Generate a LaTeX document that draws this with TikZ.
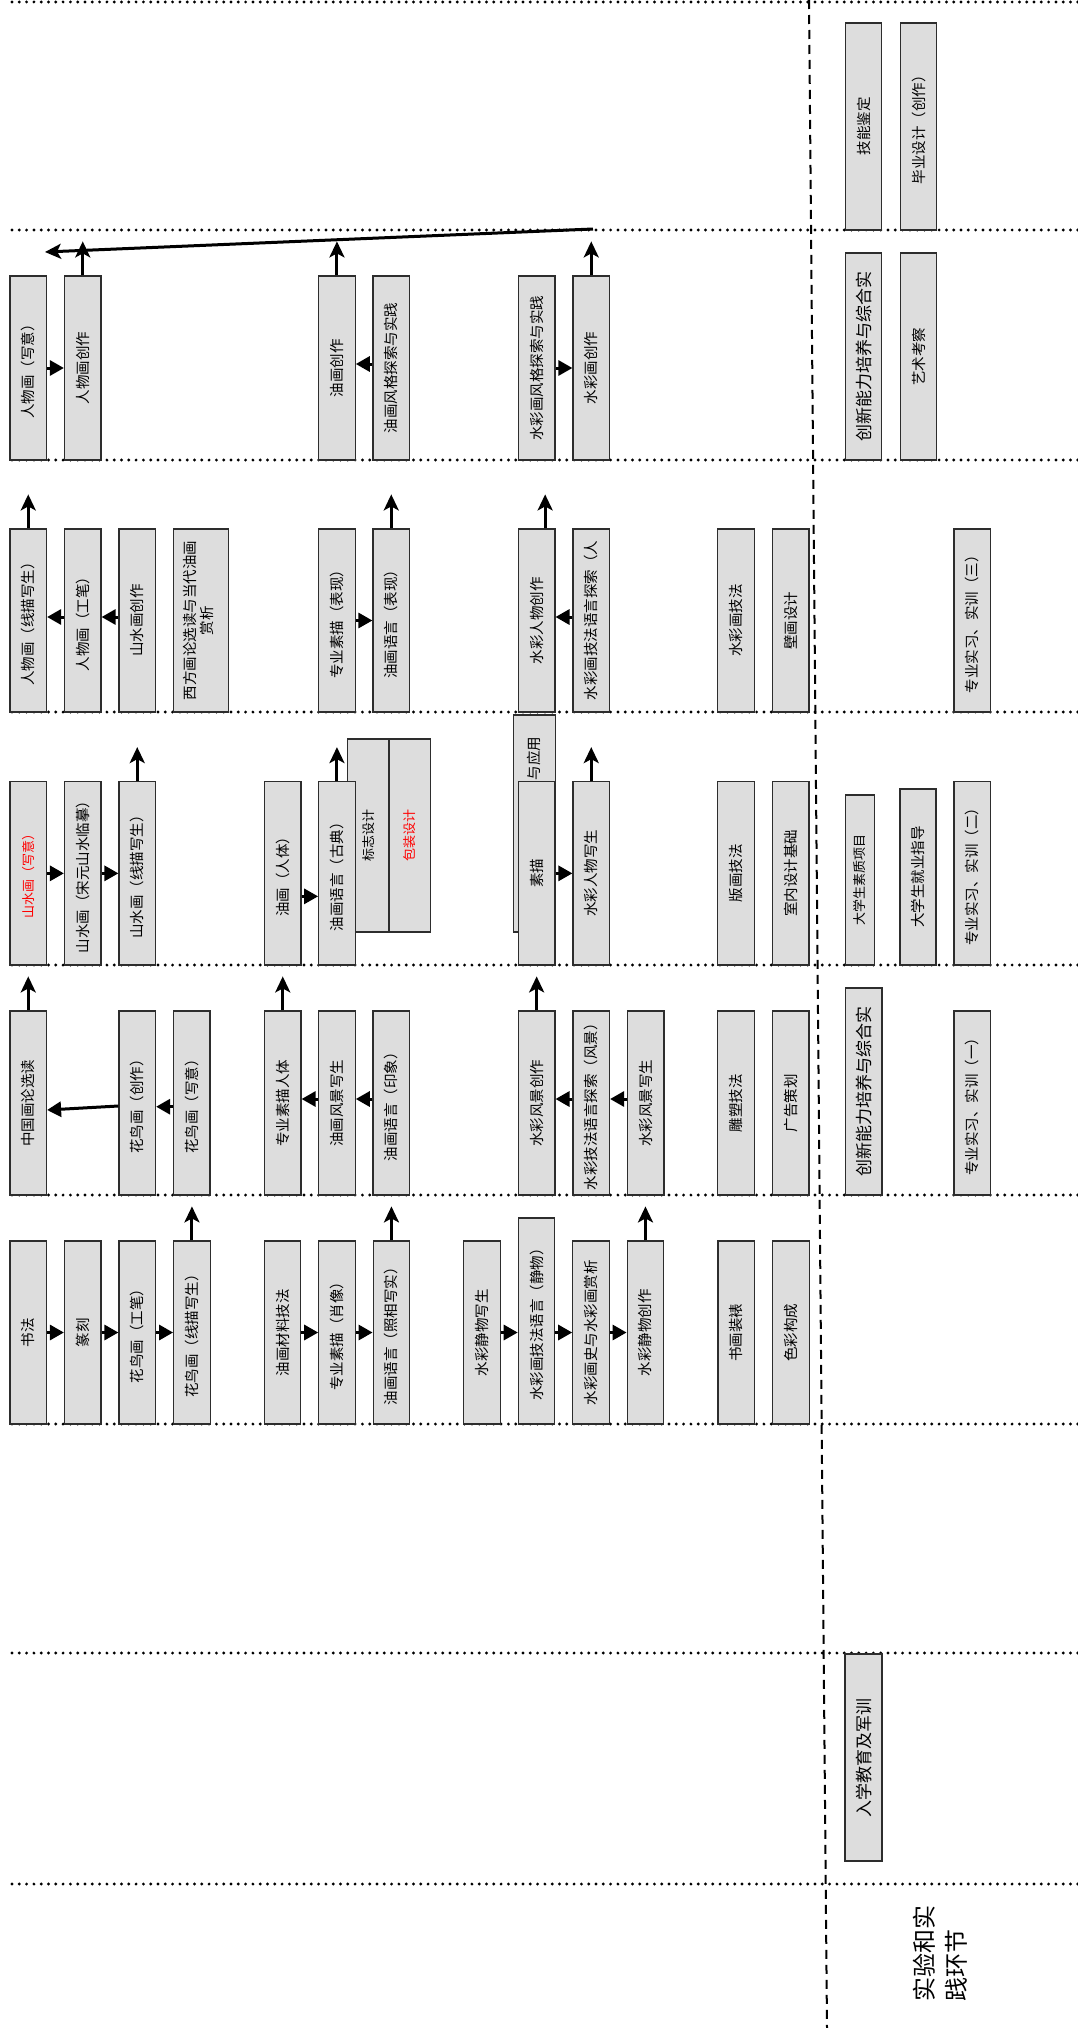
\documentclass[tikz,border=0pt]{standalone}
\usepackage{fontspec}
\newfontfamily\cjk{Noto Sans CJK SC}
\usetikzlibrary{arrows.meta}
\definecolor{boxfill}{RGB}{221,221,221}
\definecolor{boxline}{RGB}{45,45,45}
\newcommand\bx[7][]{\node[box,minimum width=#5pt,minimum height=#6pt,#1] (#2) at ({#3+#5/2},{#4+#6/2}) {\rotatebox{90}{#7}};}
\begin{document}
\begin{tikzpicture}[x=1pt,y=-1pt,
 box/.style={draw=boxline, line width=1.2pt, fill=boxfill, inner sep=0pt, font=\cjk\fontsize{14.5}{17}\selectfont},
 bigtxt/.style={font=\cjk\fontsize{17}{19}\selectfont},
 smalltxt/.style={font=\cjk\fontsize{13}{15}\selectfont},
 redtxt/.style={text=red},
 uparr/.style={line width=3pt, -{Stealth[length=16pt,width=15pt,inset=4pt]}},
 harr/.style={line width=3pt, -{Triangle[length=14pt,width=15pt]}},
 sepline/.style={line width=3.2pt, line cap=round, dash pattern=on 0pt off 7.3pt},
 vdash/.style={line width=2pt, dash pattern=on 9pt off 6pt}]
\useasboundingbox (0,0) rectangle (1078,2028);

% separators
\foreach \yy in {2,230,460,712,965,1195,1424,1653,1884}
  \draw[sepline] (12,\yy) -- (1078,\yy);
\draw[vdash] (809,0) -- (827,2028);

% Row A
\bx{jn}{845.7}{23}{36}{207}{技能鉴定}
\bx{by}{900.6}{23}{36}{207}{毕业设计（创作）}

% Row B
\bx{b1}{10}{276}{36.5}{184}{人物画（写意）}
\bx{b2}{64.5}{276}{36.5}{184}{人物画创作}
\bx{b3}{318.7}{276}{36.5}{184}{油画创作}
\bx{b4}{373}{276}{36.5}{184}{油画风格探索与实践}
\bx{b5}{518.4}{276}{36.5}{184}{水彩画风格探索与实践}
\bx{b6}{573}{276}{36.5}{184}{水彩画创作}
\bx[bigtxt]{b7}{845.7}{253}{36}{207}{创新能力培养与综合实}
\bx{b8}{900.6}{253}{36}{207}{艺术考察}

% Row C
\bx{c1}{10}{529}{36.5}{183}{人物画（线描写生）}
\bx{c2}{64.5}{529}{36.5}{183}{人物画（工笔）}
\bx{c3}{119}{529}{36.5}{183}{山水画创作}
\bx{c4}{173.2}{529}{55}{183}{\begin{tabular}{@{}c@{}}西方画论选读与当代油画\\赏析\end{tabular}}
\bx{c5}{318.7}{529}{36.5}{183}{专业素描（表现）}
\bx{c6}{373}{529}{36.5}{183}{油画语言（表现）}
\bx{c7}{518.4}{529}{36.5}{183}{水彩人物创作}
\bx{c8}{573}{529}{36.5}{183}{水彩画技法语言探索（人}
\bx{c9}{717.8}{529}{36.5}{183}{水彩画技法}
\bx{c10}{772.5}{529}{36.5}{183}{壁画设计}
\bx{c11}{954}{529}{36.5}{183}{专业实习、实训（三）}

% Row D
\bx[smalltxt,redtxt]{d1}{10}{781.7}{36.5}{183.3}{山水画（写意）}
\bx{d2}{64.5}{781.7}{36.5}{183.3}{山水画（宋元山水临摹）}
\bx{d3}{119}{781.7}{36.5}{183.3}{山水画（线描写生）}
\bx{d4}{264.5}{781.7}{36.5}{183.3}{油画（人体）}
\bx[smalltxt]{dbz}{347.6}{739}{41.4}{193}{标志设计}
\bx[smalltxt,redtxt]{dbb}{389}{739}{41.6}{193}{包装设计}
\bx{d5}{318.7}{781.7}{36.5}{183.3}{油画语言（古典）}
\bx{dyy}{513.6}{715}{42}{217}{}
\node[font=\cjk\fontsize{14.5}{17}\selectfont, rotate=90, inner sep=0pt] (dyyt) at (533.5,758.5) {与应用};
\bx{d6}{518.4}{781.7}{36.5}{183.3}{素描}
\bx{d7}{573}{781.7}{36.5}{183.3}{水彩人物写生}
\bx{d8}{717.8}{781.7}{36.5}{183.3}{版画技法}
\bx{d9}{772.5}{781.7}{36.5}{183.3}{室内设计基础}
\bx[smalltxt]{d10}{845.4}{795}{29}{170}{大学生素质项目}
\bx{d11}{900}{789}{36}{176}{大学生就业指导}
\bx{d12}{954}{781.7}{36.5}{183.3}{专业实习、实训（二）}

% Row E
\bx{e1}{10}{1011}{36.5}{184}{中国画论选读}
\bx{e2}{119}{1011}{36.5}{184}{花鸟画（创作）}
\bx{e3}{173.5}{1011}{36.5}{184}{花鸟画（写意）}
\bx{e4}{264.5}{1011}{36.5}{184}{专业素描人体}
\bx{e5}{318.7}{1011}{36.5}{184}{油画风景写生}
\bx{e6}{373}{1011}{36.5}{184}{油画语言（印象）}
\bx{e7}{518.4}{1011}{36.5}{184}{水彩风景创作}
\bx{e8}{573}{1011}{36.5}{184}{水彩技法语言探索（风景）}
\bx{e9}{627.5}{1011}{36.5}{184}{水彩风景写生}
\bx{e10}{717.8}{1011}{36.5}{184}{雕塑技法}
\bx{e11}{772.5}{1011}{36.5}{184}{广告策划}
\bx[bigtxt]{e12}{845.4}{988}{36.5}{207}{创新能力培养与综合实}
\bx{e13}{954}{1011}{36.5}{184}{专业实习、实训（一）}

% Row F
\bx{f1}{10}{1241}{36.5}{183}{书法}
\bx{f2}{64.5}{1241}{36.5}{183}{篆刻}
\bx{f3}{119}{1241}{36.5}{183}{花鸟画（工笔）}
\bx{f4}{173.7}{1241}{36.5}{183}{花鸟画（线描写生）}
\bx{f5}{264.3}{1241}{36.5}{183}{油画材料技法}
\bx{f6}{318.8}{1241}{36.5}{183}{专业素描（肖像）}
\bx{f7}{373.2}{1241}{36.5}{183}{油画语言（照相写实）}
\bx{f8}{463.8}{1241}{36.5}{183}{水彩静物写生}
\bx{f9}{518.3}{1218}{36.5}{206}{水彩画技法语言（静物）}
\bx{f10}{572.8}{1241}{36.5}{183}{水彩画史与水彩画赏析}
\bx{f11}{627.2}{1241}{36.5}{183}{水彩静物创作}
\bx{f12}{718}{1241}{36.5}{183}{书画装裱}
\bx{f13}{772.7}{1241}{36.5}{183}{色彩构成}

% Row H
\bx[bigtxt]{h1}{845}{1654}{37}{207}{入学教育及军训}

% bottom label
\node[anchor=south west, inner sep=0pt, font=\cjk\fontsize{24}{32}\selectfont] (lbl) at (911,2002)
  {\rotatebox{90}{\begin{tabular}{@{}l@{}}实验和实\\践环节\end{tabular}}};

% up arrows
\foreach \n in {b2,b3,b6,c1,c6,d3,d5,d7,e1,e4,e7,f4,f7,f11}
  \draw[uparr] (\n.north) -- ++(0,-34);
\draw[uparr] ([xshift=8.5pt]c7.north) -- ++(0,-34);

% long arrow
\coordinate (lstart) at (593,229);
\coordinate (lend) at (45,252);
\draw[uparr] (lstart) -- (lend);

% horizontal arrows row B
\draw[harr] (b1.east) -- (b1.east -| b2.west);
\draw[harr] ([yshift=4pt]b4.west) -- ([yshift=4pt]b4.west -| b3.east);
\draw[harr] (b5.east) -- (b5.east -| b6.west);
% row C
\draw[harr] ([yshift=3.5pt]c2.west) -- ([yshift=3.5pt]c2.west -| c1.east);
\draw[harr] ([yshift=3.5pt]c3.west) -- ([yshift=3.5pt]c3.west -| c2.east);
\draw[harr] (c5.east) -- (c5.east -| c6.west);
\draw[harr] ([yshift=3.5pt]c8.west) -- ([yshift=3.5pt]c8.west -| c7.east);
% row D
\draw[harr] (d1.east) -- (d1.east -| d2.west);
\draw[harr] (d2.east) -- (d2.east -| d3.west);
\draw[harr] ([yshift=-23pt]d4.east) -- ([yshift=-23pt]d4.east -| d5.west);
\draw[harr] (d6.east) -- (d6.east -| d7.west);
% row E
\draw[harr] ([yshift=-3pt]e2.west) -- ([yshift=-7pt]e1.east);
\draw[harr] ([yshift=-3.7pt]e3.west) -- ([yshift=-3.7pt]e3.west -| e2.east);
\draw[harr] ([yshift=4pt]e5.west) -- ([yshift=4pt]e5.west -| e4.east);
\draw[harr] ([yshift=4pt]e6.west) -- ([yshift=4pt]e6.west -| e5.east);
\draw[harr] ([yshift=4pt]e8.west) -- ([yshift=4pt]e8.west -| e7.east);
\draw[harr] ([yshift=4pt]e9.west) -- ([yshift=4pt]e9.west -| e8.east);
% row F
\draw[harr] (f1.east) -- (f1.east -| f2.west);
\draw[harr] (f2.east) -- (f2.east -| f3.west);
\draw[harr] (f3.east) -- (f3.east -| f4.west);
\draw[harr] (f5.east) -- (f5.east -| f6.west);
\draw[harr] (f6.east) -- (f6.east -| f7.west);
\draw[harr] (f8.east) -- (f8.east -| f9.west);
\draw[harr] (f9.east |- f8.east) -- (f8.east -| f10.west);
\draw[harr] (f10.east) -- (f10.east -| f11.west);
\end{tikzpicture}
\end{document}
